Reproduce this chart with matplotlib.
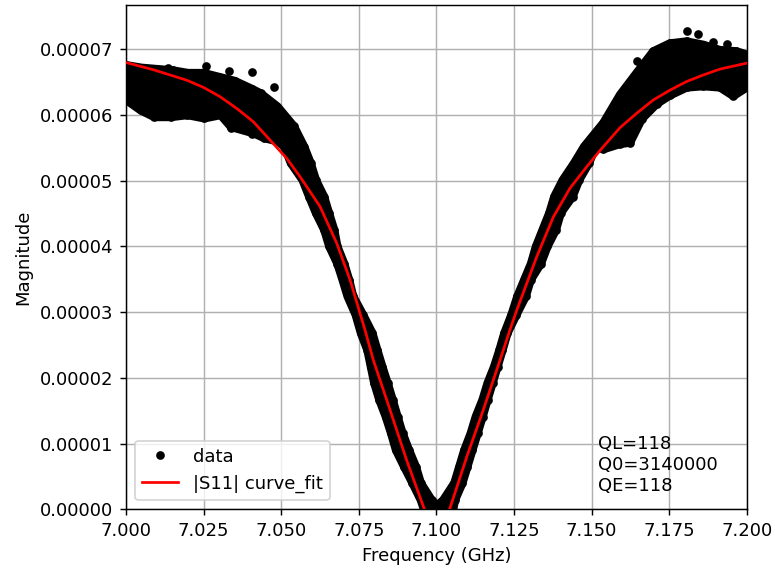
import numpy as np
import matplotlib

matplotlib.use("Agg")
import matplotlib.pyplot as plt
from matplotlib.ticker import FormatStrFormatter

# magnitudes below are in units of 1e-5
fit_freq = [7.000, 7.0088, 7.0196, 7.025, 7.0303, 7.0357, 7.041, 7.0464, 7.0518, 7.0561,
            7.0625, 7.0679, 7.0722, 7.0770, 7.0797, 7.0851, 7.0904, 7.0960, 7.1003,
            7.1044, 7.1098, 7.1151, 7.1205, 7.1237, 7.1259, 7.1323, 7.1377, 7.1431,
            7.1484, 7.1527, 7.1592, 7.1646, 7.1699, 7.1753, 7.1806, 7.1860, 7.1914,
            7.2000]
fit_mag = [6.80, 6.69, 6.53, 6.42, 6.28, 6.10, 5.90, 5.62, 5.34, 5.06,
           4.61, 4.05, 3.49, 2.73, 2.27, 1.51, 0.75, 0.02, -0.5,
           0.02, 0.80, 1.51, 2.27, 2.73, 3.03, 3.84, 4.45, 4.89,
           5.21, 5.46, 5.81, 6.03, 6.23, 6.38, 6.51, 6.61, 6.70,
           6.79]

# upper outline of the measured points (point centres)
top_freq = [7.000, 7.005, 7.010, 7.015, 7.020, 7.025, 7.030, 7.035, 7.0405, 7.0434,
            7.0488, 7.0541, 7.0574, 7.0595, 7.0612, 7.0638, 7.0654, 7.0671, 7.0681,
            7.0703, 7.0719, 7.0732, 7.0764, 7.0794, 7.0810, 7.0826, 7.0843, 7.0859,
            7.0875, 7.0891, 7.0912, 7.0934, 7.0950, 7.0985, 7.1003, 7.1022, 7.1058,
            7.1074, 7.1090, 7.1111, 7.1127, 7.1149, 7.1165, 7.1186, 7.1203, 7.1219,
            7.1242, 7.1261, 7.1283, 7.1305, 7.1321, 7.1342, 7.1364, 7.1380, 7.1407,
            7.1444, 7.1476, 7.1538, 7.1592, 7.1645, 7.1699, 7.1752, 7.1806, 7.1860,
            7.1913, 7.1967, 7.2000]
top_mag = [6.76, 6.72, 6.70, 6.68, 6.64, 6.64, 6.58, 6.52, 6.40, 6.33,
           6.13, 5.83, 5.52, 5.27, 5.01, 4.76, 4.51, 4.25, 4.00,
           3.74, 3.49, 3.24, 2.96, 2.68, 2.42, 2.17, 1.92, 1.67,
           1.41, 1.16, 0.90, 0.65, 0.40, 0.14, 0.06, 0.14, 0.40,
           0.65, 0.90, 1.16, 1.41, 1.67, 1.92, 2.17, 2.42, 2.68,
           2.96, 3.24, 3.49, 3.74, 4.00, 4.25, 4.51, 4.76, 5.01,
           5.27, 5.52, 5.88, 6.31, 6.64, 6.97, 7.09, 7.12, 7.07,
           6.99, 6.97, 6.92]

# lower outline of the measured points (point centres)
bottom_freq = [7.000, 7.0048, 7.0091, 7.0145, 7.0198, 7.0252, 7.0305, 7.0338, 7.0413,
               7.0445, 7.0488, 7.0510, 7.0531, 7.0569, 7.0590, 7.0612, 7.0639, 7.0655,
               7.0681, 7.0698, 7.0714, 7.0740, 7.0757, 7.0778, 7.0789, 7.0800, 7.0816,
               7.0837, 7.0854, 7.0870, 7.0896, 7.0923, 7.0950, 7.0967, 7.1050, 7.1060,
               7.1084, 7.1100, 7.1116, 7.1133, 7.1149, 7.1165, 7.1181, 7.1197, 7.1213,
               7.1229, 7.1258, 7.1288, 7.1304, 7.1337, 7.1358, 7.1385, 7.1401, 7.1439,
               7.1460, 7.1492, 7.1514, 7.1538, 7.1592, 7.1624, 7.1662, 7.1710, 7.1753,
               7.1807, 7.1860, 7.1914, 7.1957, 7.2000]
bottom_mag = [6.23, 6.07, 5.97, 5.97, 6.00, 5.95, 6.00, 5.82, 5.72,
              5.65, 5.60, 5.52, 5.27, 5.01, 4.76, 4.51, 4.25, 4.00,
              3.74, 3.49, 3.24, 2.96, 2.68, 2.42, 2.17, 1.92, 1.67,
              1.41, 1.16, 0.90, 0.65, 0.40, 0.14, -0.10, -0.10, 0.14,
              0.40, 0.65, 0.90, 1.16, 1.41, 1.67, 1.92, 2.17, 2.42,
              2.68, 2.96, 3.24, 3.49, 3.74, 4.00, 4.25, 4.51, 4.76,
              5.01, 5.27, 5.52, 5.48, 5.56, 5.58, 5.94, 6.17, 6.30,
              6.42, 6.44, 6.42, 6.29, 6.42]

# stray points outside the main band
stray_freq = [7.0134, 7.0257, 7.0331, 7.0407, 7.0477, 7.0338, 7.0407,
              7.1645, 7.1806, 7.1843, 7.1892, 7.1935, 7.1956]
stray_mag = [6.72, 6.75, 6.67, 6.66, 6.43, 5.80, 5.71,
             6.82, 7.28, 7.24, 7.11, 7.08, 6.33]

q_text = "QL=118\nQ0=3140000\nQE=118"

scale = 1e-5
dot = 3.8

fig = plt.figure(figsize=(775 / 130, 571 / 130), dpi=130)
ax = fig.add_axes([0.1626, 0.108, 0.8009, 0.8838])

# the dense cloud of points: outline filled and stroked one point wide
band_f = top_freq + bottom_freq[::-1]
band_m = np.array(top_mag + bottom_mag[::-1]) * scale
ax.fill(band_f, band_m, facecolor="black", edgecolor="black", linewidth=4.6,
        joinstyle="round", zorder=2)
ax.plot(top_freq, np.array(top_mag) * scale, "ko", ms=dot, zorder=2)
ax.plot(bottom_freq, np.array(bottom_mag) * scale, "ko", ms=dot, zorder=2)
ax.plot(stray_freq, np.array(stray_mag) * scale, "ko", ms=dot, zorder=2, label="data")
ax.plot(fit_freq, np.array(fit_mag) * scale, "r-", linewidth=1.5, zorder=3,
        label="|S11| curve_fit")

ax.set_xlim(7.0, 7.2)
ax.set_ylim(0, 7.68e-5)
ax.yaxis.set_major_formatter(FormatStrFormatter("%.5f"))
ax.set_xlabel("Frequency (GHz)")
ax.set_ylabel("Magnitude")
ax.grid(True)
ax.legend(loc="lower left")
ax.text(7.152, 0.28e-5, q_text)

fig.savefig("out.png", dpi=130)
